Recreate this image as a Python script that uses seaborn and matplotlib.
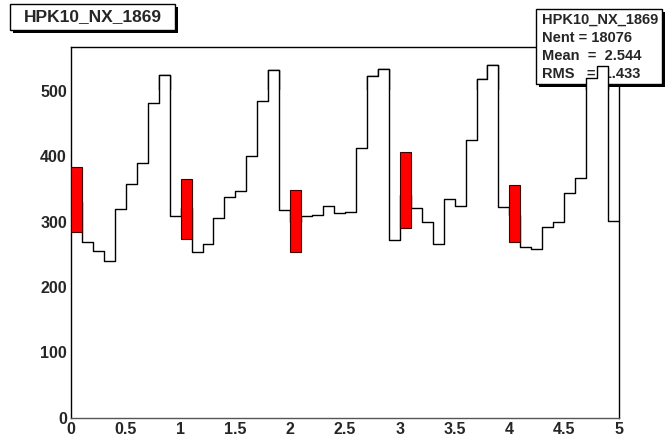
import numpy as np
import pandas as pd
import matplotlib
matplotlib.use("Agg")
import matplotlib.pyplot as plt
import seaborn as sns
from matplotlib.patches import Rectangle

# 50 bins of width 0.1 from 0 to 5
n_bins = 50
x_range = (0, 5)
counts = [330, 269, 255, 239, 319, 358, 390, 481, 524, 309,
          320, 253, 266, 306, 338, 346, 400, 484, 532, 317,
          300, 308, 310, 323, 313, 315, 412, 522, 533, 271,
          340, 320, 299, 265, 334, 324, 424, 518, 540, 322,
          310, 261, 258, 292, 299, 343, 367, 520, 538, 301]

# red boxes (one per integer position)
box_x = [0.0, 1.0, 2.0, 3.0, 4.0]
box_low = [284, 273, 254, 290, 269]
box_high = [384, 365, 348, 407, 356]

title = "HPK10_NX_1869"
stats_lines = ["HPK10_NX_1869", "Nent = 18076", "Mean  =  2.544", "RMS   =  1.433"]

sns.set_style("white")
plt.rcParams["font.family"] = ["Liberation Sans", "DejaVu Sans"]

fig = plt.figure(figsize=(6.65, 4.44), dpi=100)
y0_px, y1_px = 417.6, 47
ax = fig.add_axes([71/665, 1 - y0_px/444, (619-71)/665, (y0_px-y1_px)/444])
ymax = 567

bw = (x_range[1] - x_range[0]) / n_bins
centers = x_range[0] + bw * (np.arange(n_bins) + 0.5)
df = pd.DataFrame({"x": centers, "w": counts})
sns.histplot(data=df, x="x", weights="w", bins=n_bins, binrange=x_range,
             element="step", fill=False, color="black", linewidth=1.0, ax=ax)

heights = np.array(box_high) - np.array(box_low)
ax.bar(box_x, heights, bottom=box_low, width=bw, align="edge",
       color="#ff0000", edgecolor="#400000", linewidth=0.8, zorder=3)

ax.set_xlim(0, 5)
ax.set_ylim(0, ymax)
ax.set_xlabel("")
ax.set_ylabel("")
ax.set_xticks([0, 0.5, 1, 1.5, 2, 2.5, 3, 3.5, 4, 4.5, 5])
ax.set_xticklabels(["0", "0.5", "1", "1.5", "2", "2.5", "3", "3.5", "4", "4.5", "5"])
ax.set_yticks([0, 100, 200, 300, 400, 500])
ax.set_yticks(np.arange(320, ymax, 20), minor=True)
ax.tick_params(axis="x", length=0, pad=3, labelsize=11.5)
ax.tick_params(axis="y", which="major", direction="in", length=16, width=1,
               pad=3, labelsize=11.5)
ax.tick_params(axis="y", which="minor", direction="in", length=8, width=1)
for lab in ax.get_xticklabels() + ax.get_yticklabels():
    lab.set_fontweight("bold")
for t, v in zip(ax.yaxis.get_major_ticks(), [0, 100, 200, 300, 400, 500]):
    if v < 300:
        t.tick1line.set_visible(False)
for s in ax.spines.values():
    s.set_color("black")
    s.set_linewidth(1.0)
ax.spines["bottom"].set_color("#555555")

# title box with shadow
fig.add_artist(Rectangle((13/665, 1 - 33/444), (178-13)/665, (33-7)/444,
                         transform=fig.transFigure, facecolor="black",
                         edgecolor="none", zorder=5))
fig.add_artist(Rectangle((10/665, 1 - 30/444), (175-10)/665, (30-4)/444,
                         transform=fig.transFigure, facecolor="white",
                         edgecolor="black", linewidth=1.0, zorder=6))
fig.text(93/665, 1 - 17/444, title, ha="center", va="center", fontsize=12.5,
         fontweight="bold", zorder=7)

# stats box with shadow
fig.add_artist(Rectangle((539/665, 1 - 87/444), (665-539)/665, (87-12)/444,
                         transform=fig.transFigure, facecolor="black",
                         edgecolor="none", zorder=5))
fig.add_artist(Rectangle((536/665, 1 - 84/444), (662-536)/665, (84-9)/444,
                         transform=fig.transFigure, facecolor="white",
                         edgecolor="black", linewidth=1.0, zorder=6))
for i, line in enumerate(stats_lines):
    fig.text(542/665, 1 - (20 + i*18)/444, line, ha="left", va="center",
             fontsize=10.5, fontweight="bold", zorder=7)

# the highest bins are drawn over the stats box (as in the original)
over_px = 89
over_val = (y0_px - over_px) / (y0_px - y1_px) * ymax
ax2 = fig.add_axes([71/665, 1 - over_px/444, (619-71)/665, (over_px-y1_px)/444],
                   zorder=10)
ax2.patch.set_alpha(0)
over_w = [c if c > over_val else 0 for c in counts]
df2 = pd.DataFrame({"x": centers, "w": over_w})
sns.histplot(data=df2, x="x", weights="w", bins=n_bins, binrange=x_range,
             element="step", fill=True, alpha=1.0, facecolor="white",
             edgecolor="black", linewidth=1.0, ax=ax2)
ax2.set_xlim(0, 5)
ax2.set_ylim(over_val, ymax)
ax2.set_axis_off()

fig.savefig("out.png", dpi=100)
